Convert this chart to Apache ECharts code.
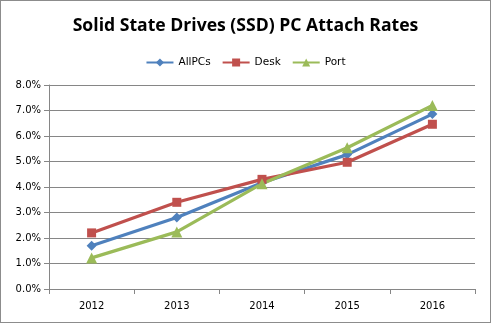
<!DOCTYPE html>
<html>
<head>
<meta charset="utf-8">
<script src="https://cdn.jsdelivr.net/npm/echarts@6/dist/echarts.min.js"></script>
<style>
  html, body { margin: 0; padding: 0; background: #fff; }
  #chart { width: 491px; height: 323px; box-sizing: border-box; border: 1px solid #8c8c8c; }
</style>
</head>
<body>
<div id="chart"></div>
<script>
// Years on the category axis
const years = ['2012', '2013', '2014', '2015', '2016'];
// Attach rates, in percent
const allPCs = [1.7, 2.8, 4.17, 5.27, 6.86];
const desk = [2.2, 3.4, 4.3, 4.97, 6.46];
const port = [1.22, 2.24, 4.13, 5.54, 7.2];

const chart = echarts.init(document.getElementById('chart'), null, { renderer: 'canvas' });

function line(name, data, color, symbol, size) {
  return {
    name: name,
    type: 'line',
    data: data,
    symbol: symbol,
    symbolSize: size,
    lineStyle: { color: color, width: 3.2 },
    itemStyle: { color: color },
    emphasis: { disabled: true },
    z: 3
  };
}

chart.setOption({
  animation: false,
  title: {
    text: 'Solid State Drives (SSD) PC Attach Rates',
    left: 'center',
    top: 11,
    textStyle: { fontFamily: 'Open Sans', fontWeight: 'bold', fontSize: 17.6, color: '#000' }
  },
  legend: {
    top: 51,
    left: 'center',
    itemWidth: 27,
    itemHeight: 10,
    itemGap: 11,
    textStyle: { fontFamily: 'DejaVu Sans', fontSize: 10.5, color: '#000' },
    data: ['AllPCs', 'Desk', 'Port']
  },
  grid: { left: 48, right: 15, top: 84, bottom: 33, containLabel: false },
  xAxis: {
    type: 'category',
    data: years,
    boundaryGap: true,
    axisLine: { lineStyle: { color: '#868686', width: 1 } },
    axisTick: { show: true, length: 5, lineStyle: { color: '#868686' } },
    axisLabel: { fontFamily: 'DejaVu Sans', fontSize: 10, color: '#000', margin: 12 },
    splitLine: { show: false }
  },
  yAxis: {
    type: 'value',
    min: 0,
    max: 8,
    interval: 1,
    axisLine: { show: true, lineStyle: { color: '#868686', width: 1 } },
    axisTick: { show: true, length: 5, lineStyle: { color: '#868686' } },
    axisLabel: {
      fontFamily: 'DejaVu Sans', fontSize: 10, color: '#000', margin: 8,
      formatter: v => v.toFixed(1) + '%'
    },
    splitLine: { lineStyle: { color: '#868686', width: 1 } }
  },
  series: [
    line('AllPCs', allPCs, '#4F81BD', 'diamond', 10),
    line('Desk', desk, '#C0504D', 'rect', 9),
    line('Port', port, '#9BBB59', 'triangle', 11)
  ]
});
</script>
</body>
</html>
